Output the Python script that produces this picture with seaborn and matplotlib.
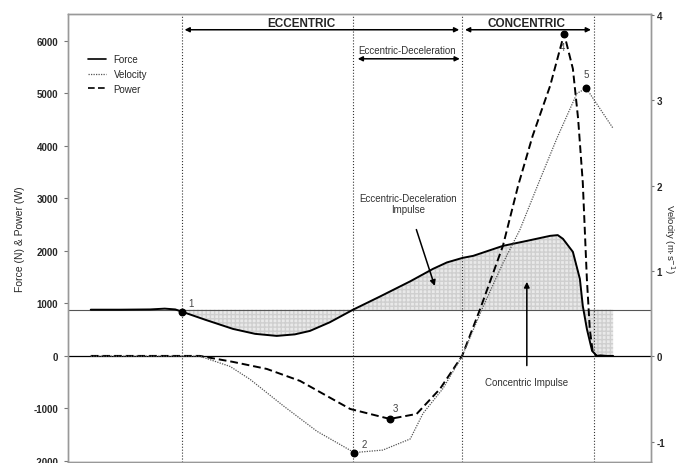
import matplotlib
import matplotlib.pyplot as plt
import numpy as np
import pandas as pd
import seaborn as sns
from matplotlib.lines import Line2D

matplotlib.use("Agg")

# ---------------------------------------------------------------------------
# Data (time in ms, force/power left axis, velocity right)
# ---------------------------------------------------------------------------
force_t = [39, 89, 141, 166, 184, 196, 235, 283, 321, 358, 389, 415, 449, 489,
           535, 587, 626, 650, 677, 695, 746, 787, 827, 840, 849, 866, 878,
           883, 890, 899, 907, 913, 924, 935]
force_n = [880, 880, 885, 900, 885, 840, 690, 514, 420, 381, 410, 476, 640, 880,
           1130, 1420, 1657, 1780, 1867, 1905, 2095, 2190, 2286, 2300, 2229, 1981,
           1467, 952, 514, 95, 0, 10, 0, 0]

velocity_t = [39, 226, 278, 312, 369, 427, 491, 540, 587, 609, 643, 676, 712,
              746, 775, 809, 839, 873, 889, 935]
velocity_ms = [0, 0, -0.12, -0.27, -0.58, -0.88, -1.13, -1.10, -0.97, -0.67,
               -0.38, 0, 0.58, 1.09, 1.48, 2.06, 2.56, 3.08, 3.14, 2.67]

power_t = [39, 226, 283, 341, 398, 444, 484, 552, 598, 638, 676, 707, 746, 772,
           797, 827, 851, 866, 875, 883, 890, 895, 900, 907]
power_w = [0, 0, -114, -248, -476, -762, -1010, -1200, -1105, -629, 0, 895, 2095,
           3238, 4190, 5143, 6133, 5467, 4514, 3300, 1467, 514, 76, 0]

body_weight = 880
phase_t = [196, 489, 676, 902]

# key points: (series, time, value, label)
point_labels = ["1", "2", "3", "4", "5"]
point_series = ["force", "velocity", "power", "power", "velocity"]
point_t = [196, 491, 552, 851, 889]
point_v = [840, -1.13, -1200, 6133, 3.14]

force_df = pd.DataFrame({"t": force_t, "value": force_n})
vel_df = pd.DataFrame({"t": velocity_t, "value": velocity_ms})
pow_df = pd.DataFrame({"t": power_t, "value": power_w})

# ---------------------------------------------------------------------------
# Plot
# ---------------------------------------------------------------------------
sns.set_theme(style="ticks")
plt.rcParams["font.family"] = ["Liberation Sans", "DejaVu Sans"]
plt.rcParams["axes.unicode_minus"] = False

fig = plt.figure(figsize=(6.78, 4.64), dpi=100)
ax = fig.add_axes([68 / 678, 1 - 463 / 464, 583 / 678, 448 / 464])
ax2 = ax.twinx()

ax.set_xlim(0, 1000)
ax.set_ylim(-2020, 6510)
ax2.set_ylim(-1.24, 4.01)

# impulse shading between force and body weight
ft = np.array(force_t)
fn = np.array(force_n)
ax.fill_between(ft, fn, body_weight, where=ft >= 196, interpolate=True,
                facecolor="#e9e9e9", edgecolor="#cfcfcf", hatch="++++", linewidth=0,
                zorder=1)

ax.axhline(body_weight, color="#555555", lw=0.8, zorder=2)
ax.axhline(0, color="black", lw=0.9, zorder=2)
for pt in phase_t:
    ax.axvline(pt, color="#333333", lw=0.8, ls=":", zorder=2)

sns.lineplot(data=force_df, x="t", y="value", ax=ax, color="black", lw=1.4,
             sort=False, estimator=None, zorder=4)
sns.lineplot(data=pow_df, x="t", y="value", ax=ax, color="black", lw=1.4,
             sort=False, estimator=None, zorder=4)
ax.lines[-1].set_dashes([4, 2])
sns.lineplot(data=vel_df, x="t", y="value", ax=ax2, color="#555555", lw=0.9,
             sort=False, estimator=None, zorder=4)
ax2.lines[-1].set_linestyle((0, (1, 1)))

# marked points
offsets = {"1": (4, 4), "2": (5, 4), "3": (2, 6), "4": (-1, -12), "5": (0, 8)}
for lab, ser, t, v in zip(point_labels, point_series, point_t, point_v):
    target = ax2 if ser == "velocity" else ax
    target.scatter([t], [v], s=22, color="black", zorder=6)
    dx, dy = offsets[lab]
    target.annotate(lab, (t, v), xytext=(dx, dy), textcoords="offset points",
                    fontsize=7, color="#444444", ha="left" if dx > 0 else "center")

# phase arrows and labels
arrow_kw = dict(arrowstyle="<|-|>", color="black", lw=1.1, mutation_scale=7,
                shrinkA=0, shrinkB=0)
ax.annotate("", xy=(671, 6210), xytext=(200, 6210), arrowprops=arrow_kw)
ax.annotate("", xy=(897, 6210), xytext=(681, 6210), arrowprops=arrow_kw)
ax.annotate("", xy=(672, 5657), xytext=(497, 5657), arrowprops=arrow_kw)
ax.text(400, 6340, "ECCENTRIC", ha="center", va="center", fontsize=8.5, fontweight="bold")
ax.text(786, 6340, "CONCENTRIC", ha="center", va="center", fontsize=8.5, fontweight="bold")
ax.text(581, 5830, "Eccentric-Deceleration", ha="center", va="center", fontsize=7,
        color="#333333")

ax.annotate("Eccentric-Deceleration\nImpulse", xy=(629, 1333), xytext=(583, 2900),
            ha="center", va="center", fontsize=7, color="#333333",
            arrowprops=dict(arrowstyle="-|>", color="black", lw=1.1,
                            mutation_scale=8, shrinkA=9, shrinkB=0))
ax.annotate("Concentric Impulse", xy=(787, 1410), xytext=(787, -500),
            ha="center", va="center", fontsize=7, color="#333333",
            arrowprops=dict(arrowstyle="-|>", color="black", lw=1.1,
                            mutation_scale=8, shrinkA=6, shrinkB=0))

# axes styling
ax.set_xticks([])
ax.set_xlabel("")
ax.set_ylabel("Force (N) & Power (W)", fontsize=7.5, labelpad=6)
ax2.set_ylabel("Velocity (m\u00b7s$^{-1}$)", fontsize=6.8, rotation=270, va="center")
ax2.yaxis.set_label_coords(1.031, 0.5)
ax.set_yticks([-2000, -1000, 0, 1000, 2000, 3000, 4000, 5000, 6000])
ax2.set_yticks([-1, 0, 1, 2, 3, 4])
ax.tick_params(axis="y", labelsize=7, length=3, width=0.8, color="#777777", pad=4)
ax2.tick_params(axis="y", labelsize=7, length=2.5, width=0.8, color="#777777", pad=1.5)
for a in (ax, ax2):
    for lbl in a.get_yticklabels():
        lbl.set_fontweight("bold")
    for sp in a.spines.values():
        sp.set_visible(True)
        sp.set_color("#999999")
        sp.set_linewidth(1.0)

handles = [Line2D([], [], color="black", lw=1.2),
           Line2D([], [], color="#555555", lw=0.9, ls=(0, (1, 1))),
           Line2D([], [], color="black", lw=1.2, dashes=[4, 2])]
ax.legend(handles, ["Force", "Velocity", "Power"], loc="upper left",
          bbox_to_anchor=(0.02, 0.93), frameon=False, fontsize=7,
          handlelength=1.8, labelspacing=0.5)

fig.savefig("out.png", dpi=100)
